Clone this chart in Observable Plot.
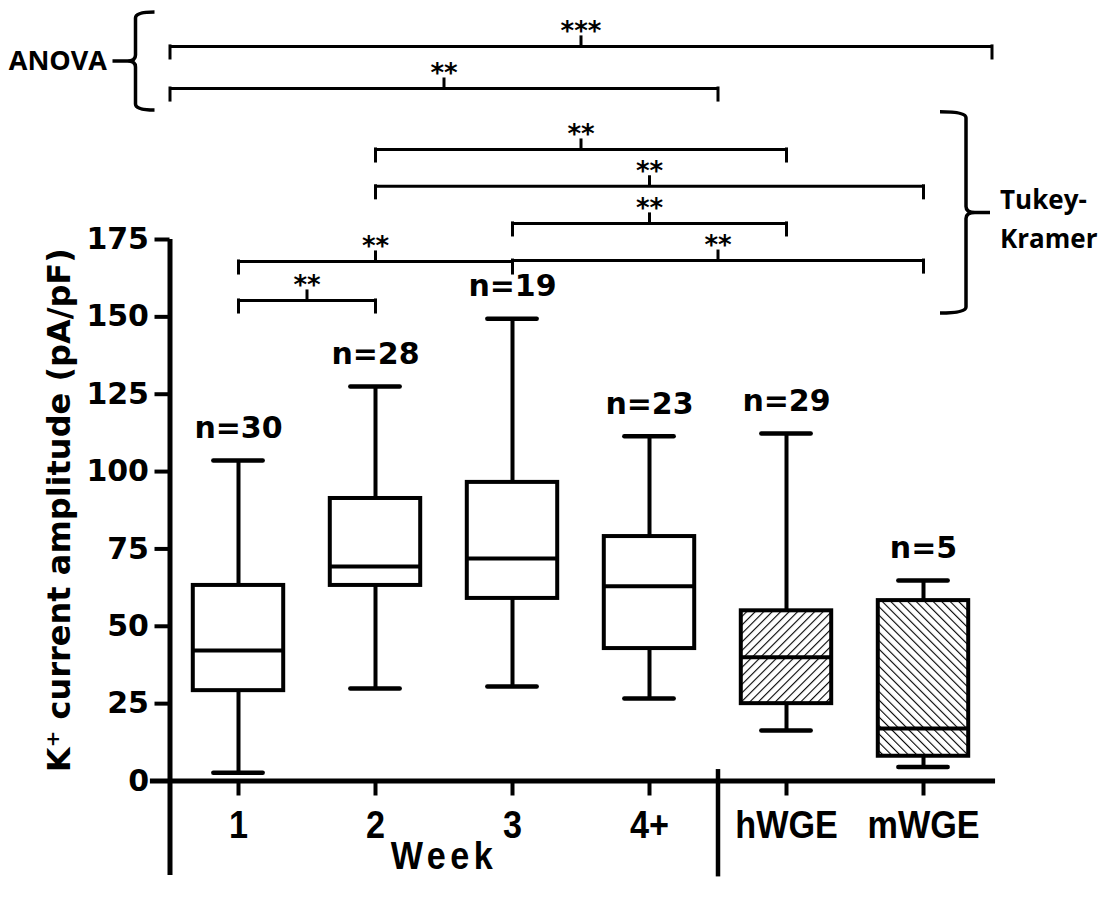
<!DOCTYPE html>
<html>
<head>
<meta charset="utf-8">
<script src="https://cdn.jsdelivr.net/npm/d3@7"></script>
<script src="https://cdn.jsdelivr.net/npm/@observablehq/plot@0.6"></script>
<style>
  body { margin: 0; background: #fff; }
  #chart svg { display: block; }
</style>
</head>
<body>
<div id="chart"></div>
<script>
// Box-plot summaries of K+ current amplitude (pA/pF) per group
const groups      = ["1", "2", "3", "4+", "hWGE", "mWGE"];
const counts      = [30, 28, 19, 23, 29, 5];
const whiskerLow  = [2.7, 29.9, 30.5, 26.7, 16.3, 4.5];
const quartile1   = [29.2, 63.2, 59.0, 42.8, 25.0, 8.0];
const medians     = [42.2, 69.3, 71.9, 62.9, 40.0, 17.0];
const quartile3   = [63.2, 91.3, 96.5, 79.0, 55.0, 58.3];
const whiskerHigh = [103.6, 127.5, 149.4, 111.4, 112.3, 64.8];
const yTicks      = [0, 25, 50, 75, 100, 125, 150, 175];

// Significance comparisons
const bracketTest  = ["ANOVA", "ANOVA", "Tukey-Kramer", "Tukey-Kramer", "Tukey-Kramer", "Tukey-Kramer", "Tukey-Kramer", "Tukey-Kramer"];
const bracketFrom  = ["1", "1", "2", "2", "3", "3", "1", "1"];
const bracketTo    = ["mWGE", "4+", "hWGE", "mWGE", "hWGE", "mWGE", "3", "2"];
const bracketStars = ["***", "**", "**", "**", "**", "**", "**", "**"];

// ---- layout ----
const W = 1109, H = 899;
const bracketLevels = [237.4, 223.8, 204.1, 192.2, 180.2, 168.2, 167.9, 155.3];
const boxHalf = 0.33, capHalf = 0.18;
const posOf = g => groups.indexOf(g) + 1;

const rows = groups.map((g, i) => ({
  group: g, pos: i + 1, n: counts[i],
  low: whiskerLow[i], q1: quartile1[i], median: medians[i], q3: quartile3[i], high: whiskerHigh[i]
}));

const brackets = bracketTest.map((t, i) => {
  const pad = t === "ANOVA" ? 0.5 : 0;   // ANOVA spans whole group sets
  const x1 = posOf(bracketFrom[i]) - pad, x2 = posOf(bracketTo[i]) + pad;
  return {test: t, x1, x2, mid: (x1 + x2) / 2, level: bracketLevels[i], stars: bracketStars[i]};
});

const boxFill = g => g === "hWGE" ? "url(#hatch-up)" : g === "mWGE" ? "url(#hatch-down)" : "white";

const sans = "'DejaVu Sans', sans-serif";
const arial = "'Liberation Sans', Arial, sans-serif";
const callout = "'Open Sans', 'Liberation Sans', sans-serif";

// Curly braces grouping the test brackets
const anovaRows = brackets.filter(d => d.test === "ANOVA");
const tukeyRows = brackets.filter(d => d.test !== "ANOVA");
const leftBrace = {
  top: d3.max(anovaRows, d => d.level) + 11,
  bottom: d3.min(anovaRows, d => d.level) - 7.1
};
leftBrace.mid = (leftBrace.top + leftBrace.bottom) / 2;
const rightBrace = {
  top: d3.max(tukeyRows, d => d.level) + 12,
  bottom: d3.min(tukeyRows, d => d.level) - 4.2
};
rightBrace.mid = (rightBrace.top + rightBrace.bottom) / 2;

function bracePath(xv, yTop, yBot, yMid, dir, arm, point, dash) {
  // dir = +1: arms open to the right, point to the left; dir = -1 mirrored
  const r = 6;
  const p = d3.path();
  p.moveTo(xv + dir * arm, yTop);
  p.quadraticCurveTo(xv, yTop, xv, yTop + r);
  p.lineTo(xv, yMid - r);
  p.quadraticCurveTo(xv, yMid, xv - dir * point, yMid);
  p.quadraticCurveTo(xv, yMid, xv, yMid + r);
  p.lineTo(xv, yBot - r);
  p.quadraticCurveTo(xv, yBot, xv + dir * arm, yBot);
  p.moveTo(xv - dir * point, yMid);
  p.lineTo(xv - dir * (point + dash), yMid);
  return p.toString();
}

function braceMark(spec, edge, offset, dir, arm, point, dash) {
  return (index, scales) => {
    const x = scales.x, y = scales.y;
    return d3.create("svg:path")
      .attr("d", bracePath(x(edge) + offset, y(spec.top), y(spec.bottom), y(spec.mid), dir, arm, point, dash))
      .attr("fill", "none")
      .attr("stroke", "black")
      .attr("stroke-width", 3.5)
      .attr("stroke-linejoin", "round")
      .node();
  };
}

const plot = Plot.plot({
  width: W,
  height: H,
  marginLeft: 169.5,
  marginRight: 117.5,
  marginTop: 239,
  marginBottom: 118.5,
  x: {domain: [0.5, 6.5]},
  y: {domain: [0, 175]},
  color: {type: "identity"},
  style: {fontFamily: sans, fontWeight: "bold", color: "black", background: "white", overflow: "visible"},
  marks: [
    // axes
    Plot.axisY({ticks: yTicks, tickSize: 15, tickPadding: 6, strokeWidth: 4, fontSize: 30, fontWeight: "bold", fontFamily: sans, label: null}),
    Plot.axisX({ticks: [1, 2, 3, 4, 5, 6], tickFormat: i => groups[i - 1], tickSize: 15, tickPadding: 15, strokeWidth: 4,
                fontSize: 38, fontWeight: "bold", fontFamily: arial, label: null}),
    Plot.ruleX([0.5], {y1: -30.5, y2: 175, strokeWidth: 5}),
    Plot.ruleY([0], {x1: 0.357, x2: 6.526, strokeWidth: 5}),
    Plot.ruleX([4.5], {y1: 3.7, y2: -31, strokeWidth: 4.5}),
    Plot.text(["Week"], {x: 2.5, y: 0, dy: 76, fontSize: 38, fontFamily: arial, fontWeight: "bold", className: "narrow"}),
    Plot.text(["K\u207A current amplitude (pA/pF)"], {frameAnchor: "left", y: 87.5, dx: -110, rotate: -90, textAnchor: "middle",
                fontSize: 32, fontFamily: sans, fontWeight: "bold"}),

    // whiskers and caps
    Plot.ruleX(rows, {x: "pos", y1: "low", y2: "high", strokeWidth: 4}),
    Plot.ruleY(rows, {y: "low", x1: d => d.pos - capHalf, x2: d => d.pos + capHalf, strokeWidth: 4.5, strokeLinecap: "round"}),
    Plot.ruleY(rows, {y: "high", x1: d => d.pos - capHalf, x2: d => d.pos + capHalf, strokeWidth: 4.5, strokeLinecap: "round"}),
    // boxes
    Plot.rect(rows, {x1: d => d.pos - boxHalf, x2: d => d.pos + boxHalf, y1: "q1", y2: "q3",
                     fill: d => boxFill(d.group), stroke: "black", strokeWidth: 4}),
    Plot.ruleY(rows, {y: "median", x1: d => d.pos - boxHalf, x2: d => d.pos + boxHalf, strokeWidth: 4}),
    // sample sizes
    Plot.text(rows, {x: "pos", y: "high", text: d => `n=${d.n}`, dy: -32, fontSize: 30, fontFamily: sans, fontWeight: "bold"}),

    // significance brackets
    Plot.ruleY(brackets, {y: "level", x1: "x1", x2: "x2", strokeWidth: 3}),
    Plot.ruleX(brackets, {x: "x1", y1: "level", y2: d => d.level - 3.9, strokeWidth: 3, strokeLinecap: "square"}),
    Plot.ruleX(brackets, {x: "x2", y1: "level", y2: d => d.level - 3.9, strokeWidth: 3, strokeLinecap: "square"}),
    Plot.ruleX(brackets, {x: "mid", y1: "level", y2: d => d.level + 3.4, strokeWidth: 3}),
    Plot.text(brackets, {x: "mid", y: "level", text: "stars", dy: -15, fontSize: 26, fontFamily: sans, fontWeight: "bold"}),

    // test labels and braces
    braceMark(leftBrace, 0.5, -34, 1, 19, 8, 15),
    braceMark(rightBrace, 6.5, -25.5, -1, 26, 9, 15),
    Plot.text(["ANOVA"], {x: 0.5, y: leftBrace.mid, dx: -63, textAnchor: "end", fontSize: 27, fontFamily: callout, fontWeight: "bold"}),
    Plot.text(["Tukey-\nKramer"], {x: 6.5, y: rightBrace.mid, dx: 8, dy: 3, textAnchor: "start", lineHeight: 1.5, fontSize: 26, fontFamily: callout, fontWeight: "bold"})
  ]
});

// hatch patterns for the WGE boxes
d3.select(plot).insert("defs", ":first-child").html(`
  <pattern id="hatch-up" patternUnits="userSpaceOnUse" width="6" height="6" patternTransform="rotate(45)">
    <rect width="6" height="6" fill="white"/>
    <line x1="0" y1="-1" x2="0" y2="7" stroke="black" stroke-width="2.2"/>
  </pattern>
  <pattern id="hatch-down" patternUnits="userSpaceOnUse" width="6" height="6" patternTransform="rotate(-45)">
    <rect width="6" height="6" fill="white"/>
    <line x1="0" y1="-1" x2="0" y2="7" stroke="black" stroke-width="2.2"/>
  </pattern>`);

// condensed lettering for the category labels
d3.select(plot)
  .selectAll("g[aria-label='x-axis tick label'] text, g.narrow text")
  .attr("transform", function () { return (this.getAttribute("transform") || "") + " scale(0.9,1)"; });
d3.select(plot).selectAll("g.narrow text").style("letter-spacing", "5px");

document.getElementById("chart").append(plot);
</script>
</body>
</html>
